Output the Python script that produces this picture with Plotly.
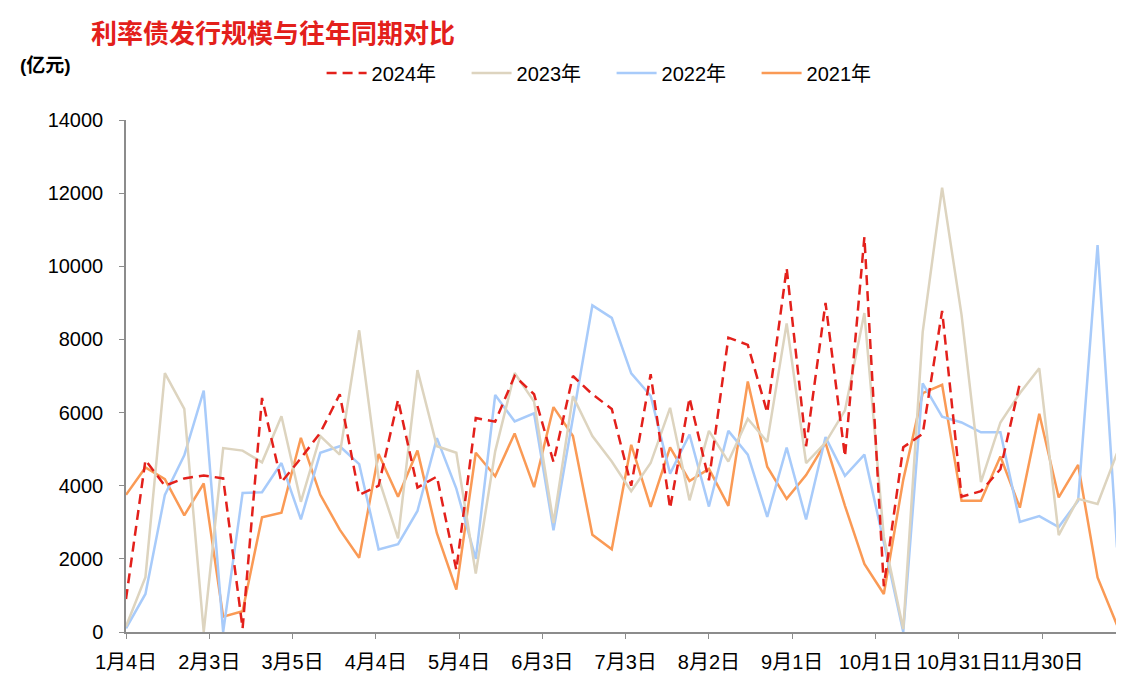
import plotly.graph_objects as go
import pandas as pd

# weekly issuance, 亿元, week starting 1月4日
weeks = pd.date_range("2023-01-04", periods=52, freq="7D")

y2024 = [900, 4700, 4000, 4200, 4280, 4200, 100, 6400, 4100, 4750,
         5450, 6500, 3750, 4000, 6350, 3950, 4250, 1700, 5850, 5750,
         7000, 6500, 4650, 7000, 6500, 6100, 4000, 7050, 3380, 6400,
         4150, 8050, 7850, 6000, 9950, 5080, 9000, 4800, 10800, 1250,
         5050, 5420, 8780, 3700, 3850, 4450, 6800]
y2023 = [150, 1500, 7080, 6100, 0, 5030, 4960, 4640, 5900, 3560,
         5360, 4850, 8250, 4200, 2560, 7160, 5080, 4900, 1600, 4940,
         7080, 6300, 2980, 6450, 5360, 4660, 3850, 4620, 6130, 3600,
         5500, 4660, 5830, 5200, 8440, 4620, 5180, 6060, 8720, 2600,
         80, 8200, 12150, 8670, 4100, 5730, 6530, 7210, 2650, 3640,
         3500, 4890]
y2022 = [100, 1040, 3750, 4830, 6600, 0, 3800, 3820, 4620, 3080,
         4900, 5080, 4590, 2260, 2400, 3310, 5300, 3920, 2000, 6480,
         5760, 5980, 2780, 5870, 8930, 8590, 7070, 6460, 4330, 5400,
         3430, 5500, 4850, 3150, 5040, 3080, 5330, 4270, 4850, 2450,
         0, 6800, 5890, 5730, 5460, 5460, 3010, 3170, 2870, 3590,
         10580, 2310]
y2021 = [3750, 4500, 4180, 3190, 4060, 420, 570, 3140, 3260, 5310,
         3750, 2800, 2030, 4870, 3700, 4960, 2700, 1160, 4900, 4260,
         5430, 3960, 6150, 5360, 2660, 2260, 5120, 3420, 5050, 4130,
         4460, 3450, 6850, 4520, 3640, 4290, 5170, 3450, 1860, 1040,
         4160, 6530, 6760, 3590, 3590, 4800, 3400, 5970, 3680, 4570,
         1490, 190]

font_family = "Arial, Liberation Sans, Noto Sans CJK SC, sans-serif"

fig = go.Figure()
fig.add_trace(go.Scatter(x=weeks, y=y2021, mode="lines", name="2021年",
                         line=dict(color="#FA9A55", width=2.5)))
fig.add_trace(go.Scatter(x=weeks, y=y2022, mode="lines", name="2022年",
                         line=dict(color="#A8CBFA", width=2.5)))
fig.add_trace(go.Scatter(x=weeks, y=y2023, mode="lines", name="2023年",
                         line=dict(color="#DDD4BF", width=2.5)))
fig.add_trace(go.Scatter(x=weeks[:len(y2024)], y=y2024, mode="lines", name="2024年",
                         line=dict(color="#E3201B", width=2.5, dash="10px,6px")))

# page body has an 8px margin, so the figure is drawn slightly smaller
W, H = 1116, 679
fig.update_layout(
    width=W, height=H,
    margin=dict(l=118, r=7, t=112, b=55),
    paper_bgcolor="white", plot_bgcolor="white",
    font=dict(family=font_family, size=20, color="black"),
    legend=dict(orientation="h", traceorder="reversed",
                x=0.49, xanchor="center", y=1.092, yanchor="middle",
                font=dict(size=20), itemwidth=40, entrywidth=90,
                bgcolor="rgba(0,0,0,0)"),
    showlegend=True,
)

# chart title, top left above the plot
fig.add_annotation(text="<b>利率债发行规模与往年同期对比</b>",
                   xref="paper", yref="paper", x=-0.037, y=1.212,
                   xanchor="left", yanchor="top", showarrow=False,
                   font=dict(family="Noto Sans CJK SC", size=26, color="#E3201B"))

fig.add_annotation(text="<b>(亿元)</b>", xref="paper", yref="paper",
                   x=-0.109, y=1.107, xanchor="left", yanchor="middle",
                   showarrow=False, font=dict(size=19, color="black"))

fig.update_xaxes(type="date", range=["2023-01-04", "2023-12-27"],
                 tick0="2023-01-04", dtick=30 * 86400000,
                 tickformat="%-m月%-d日", tickangle=0, ticklabelstandoff=6,
                 showline=True, linecolor="#8C8C8C", linewidth=1.5,
                 ticks="outside", ticklen=5, tickcolor="#8C8C8C",
                 showgrid=False, zeroline=False)
fig.update_yaxes(range=[0, 14000], dtick=2000, tickformat="d",
                 ticklabelstandoff=12,
                 showline=True, linecolor="#8C8C8C", linewidth=1.5,
                 ticks="outside", ticklen=5, tickcolor="#8C8C8C",
                 showgrid=False, zeroline=False)

fig.write_html("out.html")
